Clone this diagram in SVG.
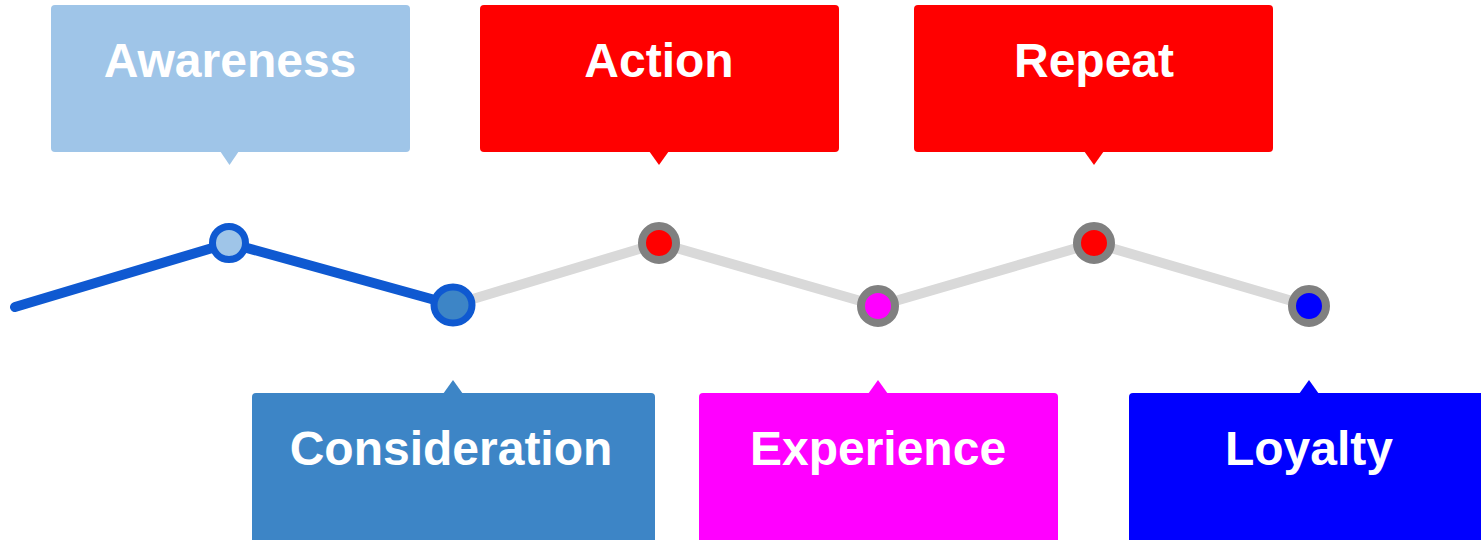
<svg xmlns="http://www.w3.org/2000/svg" width="1481" height="540" viewBox="0 0 1481 540">
  <style>
    .label { font-family: "Liberation Sans", Arial, sans-serif; font-weight: bold; font-size: 48px; fill: #ffffff; text-anchor: middle; }
    .track { fill: none; stroke-width: 10; stroke-linecap: round; stroke-linejoin: round; }
    .done { stroke: #0f59d1; }
    .todo { stroke: #d9d9d9; }
    .ring-done { stroke: #0f59d1; stroke-width: 7; }
    .ring-todo { stroke: #808080; stroke-width: 8; }
  </style>

  <!-- journey track -->
  <g id="connectors">
    <polyline class="track todo" points="453,305 659,243 878,306 1094,243 1309,306"/>
    <polyline class="track done" points="15,307 229,243 453,305"/>
  </g>

  <!-- stage markers on the track -->
  <g id="markers">
    <circle cx="229" cy="243" r="16.5" fill="#9fc5e8" class="ring-done"/>
    <ellipse cx="453" cy="305" rx="19" ry="18" fill="#3d85c6" class="ring-done"/>
    <circle cx="659" cy="243" r="17" fill="#ff0000" class="ring-todo"/>
    <circle cx="878" cy="306" r="17" fill="#ff00ff" class="ring-todo"/>
    <circle cx="1094" cy="243" r="17" fill="#ff0000" class="ring-todo"/>
    <circle cx="1309" cy="306" r="17" fill="#0000ff" class="ring-todo"/>
  </g>

  <g id="awareness">
    <rect x="51" y="5" width="359" height="147" rx="4" fill="#9fc5e8"/>
    <polygon points="220,151 239,151 229.5,165" fill="#9fc5e8"/>
    <text class="label" x="230" y="77">Awareness</text>
  </g>

  <g id="action">
    <rect x="480" y="5" width="359" height="147" rx="4" fill="#ff0000"/>
    <polygon points="649,151 669,151 659,165" fill="#ff0000"/>
    <text class="label" x="659" y="77">Action</text>
  </g>

  <g id="repeat">
    <rect x="914" y="5" width="359" height="147" rx="4" fill="#ff0000"/>
    <polygon points="1084,151 1104,151 1094,165" fill="#ff0000"/>
    <text class="label" x="1094" y="77">Repeat</text>
  </g>

  <g id="consideration">
    <rect x="252" y="393" width="403" height="160" rx="4" fill="#3d85c6"/>
    <polygon points="443,394 463,394 453,380" fill="#3d85c6"/>
    <text class="label" x="451" y="465">Consideration</text>
  </g>

  <g id="experience">
    <rect x="699" y="393" width="359" height="160" rx="4" fill="#ff00ff"/>
    <polygon points="868,394 888,394 878,380" fill="#ff00ff"/>
    <text class="label" x="878" y="465">Experience</text>
  </g>

  <g id="loyalty">
    <rect x="1129" y="393" width="359" height="160" rx="4" fill="#0000ff"/>
    <polygon points="1299,394 1319,394 1309,380" fill="#0000ff"/>
    <text class="label" x="1309" y="465">Loyalty</text>
  </g>
</svg>
